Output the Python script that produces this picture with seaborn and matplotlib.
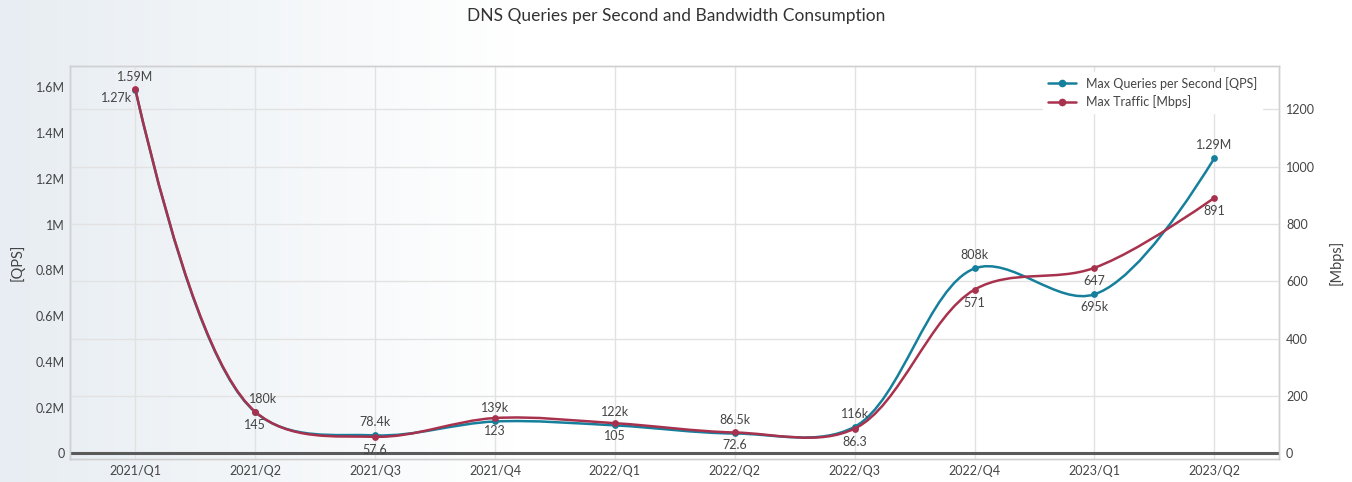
import numpy as np
import matplotlib
matplotlib.use("Agg")
import matplotlib.pyplot as plt
from matplotlib.path import Path
from matplotlib.patches import PathPatch
from matplotlib.lines import Line2D
from matplotlib.ticker import FuncFormatter
import pandas as pd
import seaborn as sns

# data
quarters = ["2021/Q1", "2021/Q2", "2021/Q3", "2021/Q4", "2022/Q1",
            "2022/Q2", "2022/Q3", "2022/Q4", "2023/Q1", "2023/Q2"]
qps = [1590000, 180000, 78400, 139000, 122000, 86500, 116000, 808000, 695000, 1290000]
qps_text = ["1.59M", "180k", "78.4k", "139k", "122k", "86.5k", "116k", "808k", "695k", "1.29M"]
mbps = [1270, 145, 57.6, 123, 105, 72.6, 86.3, 571, 647, 891]
mbps_text = ["1.27k", "145", "57.6", "123", "105", "72.6", "86.3", "571", "647", "891"]

# where each label sits relative to its marker
qps_pos = ["above", "above_right"] + ["above"] * 6 + ["below", "above"]
mbps_pos = ["left"] + ["below"] * 9

TEAL = "#16809c"
RED = "#a8324e"
TXT = "#444444"

df = pd.DataFrame({"x": range(len(quarters)), "qps": qps, "mbps": mbps})

sns.set_theme(style="white")
plt.rcParams["font.family"] = ["Lato", "DejaVu Sans"]

W, H = 1352, 482
fig = plt.figure(figsize=(W / 100, H / 100), dpi=100)

# soft gradient background on the left
bg = fig.add_axes([0, 0, 1, 1], zorder=-5)
grad = np.linspace(0, 1, 400)
fade = np.clip(grad / 0.38, 0, 1)
left_col = np.array([231, 237, 242]) / 255
img = left_col[None, :] * (1 - fade[:, None]) + fade[:, None]
bg.imshow(img[None, :, :], aspect="auto", extent=[0, 1, 0, 1])
bg.set_axis_off()

x0, x1 = 70.3, 1279
y_top, y_bot = 66, 459
ax = fig.add_axes([x0 / W, (H - y_bot) / H, (x1 - x0) / W, (y_bot - y_top) / H])
ax.set_facecolor("none")
ax2 = ax.twinx()

ax.set_xlim(-0.542, 9.539)
ax.set_ylim(-25000, 1693000)
ax2.set_ylim(-19.9, 1351)


def smooth_path(xs, ys, sx, sy, smoothness=1.0):
    # spline through the points, same tangent rule as plotly's "spline" shape
    pts = np.column_stack([np.asarray(xs, float) * sx, np.asarray(ys, float) * sy])
    tans = []
    for i in range(1, len(pts) - 1):
        d1 = pts[i - 1] - pts[i]
        d2 = pts[i + 1] - pts[i]
        d1a = np.hypot(*d1) ** 0.5
        d2a = np.hypot(*d2) ** 0.5
        num = (d2a ** 2 * d1 - d1a ** 2 * d2) * smoothness
        tans.append((pts[i] + num / (3 * d2a * (d1a + d2a)),
                     pts[i] - num / (3 * d1a * (d1a + d2a))))
    verts = [pts[0], tans[0][0], pts[1]]
    codes = [Path.MOVETO, Path.CURVE3, Path.CURVE3]
    for i in range(2, len(pts) - 1):
        verts += [tans[i - 2][1], tans[i - 1][0], pts[i]]
        codes += [Path.CURVE4] * 3
    verts += [tans[-1][1], pts[-1]]
    codes += [Path.CURVE3] * 2
    verts = np.array(verts) / [sx, sy]
    return Path(verts, codes)


px_x = (x1 - x0) / (9.539 + 0.542)
px_qps = (y_bot - y_top) / (1693000 + 25000)
px_mbps = (y_bot - y_top) / (1351 + 19.9)

# grid from the right axis, vertical grid at each quarter
ax2.set_yticks([0, 200, 400, 600, 800, 1000, 1200])
ax2.grid(axis="y", color="#e2e2e2", lw=1)
ax.set_xticks(df["x"])
ax.set_xticklabels(quarters)
ax.grid(axis="x", color="#e2e2e2", lw=1)
ax.grid(axis="y", visible=False)
ax2.axhline(0, color="#5a5a5a", lw=2.2, zorder=1.5)

# curves (both on the top axes so the grid stays beneath them)
teal_patch = PathPatch(smooth_path(df["x"], df["qps"], px_x, px_qps),
                       facecolor="none", edgecolor=TEAL, lw=1.8, transform=ax.transData, zorder=2)
ax2.add_patch(teal_patch)
red_patch = PathPatch(smooth_path(df["x"], df["mbps"], px_x, px_mbps),
                      facecolor="none", edgecolor=RED, lw=1.8, zorder=3)
ax2.add_patch(red_patch)

sns.scatterplot(data=df, x="x", y="qps", ax=ax, color=TEAL, s=24, linewidth=0, zorder=4, legend=False)
sns.scatterplot(data=df, x="x", y="mbps", ax=ax2, color=RED, s=24, linewidth=0, zorder=5, legend=False)

# point labels
offsets = {"above": ((0, 7), "center", "bottom"),
           "above_right": ((8, 7), "center", "bottom"),
           "below": ((0, -7), "center", "top"),
           "left": ((-3, -3), "right", "top")}
for xi, v, t, p in zip(df["x"], qps, qps_text, qps_pos):
    off, ha, va = offsets[p]
    ax2.annotate(t, (xi, v), xycoords=ax.transData, xytext=off, textcoords="offset pixels",
                 ha=ha, va=va, fontsize=9, color=TXT, zorder=6)
for xi, v, t, p in zip(df["x"], mbps, mbps_text, mbps_pos):
    off, ha, va = offsets[p]
    ax2.annotate(t, (xi, v), xytext=off, textcoords="offset pixels",
                 ha=ha, va=va, fontsize=9, color=TXT, zorder=6)

ax.set_yticks([0, 200000, 400000, 600000, 800000, 1000000, 1200000, 1400000, 1600000])
ax.yaxis.set_major_formatter(FuncFormatter(lambda v, _: "0" if v == 0 else f"{v / 1e6:g}M"))
ax.tick_params(length=0, labelsize=9, labelcolor=TXT)
ax.tick_params(axis="x", pad=4.5)
ax.tick_params(axis="y", pad=4)
ax2.tick_params(length=0, labelsize=9, labelcolor=TXT, pad=5)
ax.set_xlabel("")
ax.set_ylabel("[QPS]", fontsize=10.5, color=TXT, labelpad=8)
ax2.set_ylabel("[Mbps]", fontsize=10.5, color=TXT, labelpad=10)

for a in (ax, ax2):
    for s in a.spines.values():
        s.set_color("#d0d0d0")
        s.set_linewidth(1)

handles = [Line2D([], [], color=TEAL, lw=1.8, marker="o", markersize=4.5),
           Line2D([], [], color=RED, lw=1.8, marker="o", markersize=4.5)]
leg = ax2.legend(handles, ["Max Queries per Second [QPS]", "Max Traffic [Mbps]"],
                 loc="upper right", bbox_to_anchor=(0.986, 0.985), borderaxespad=0,
                 fontsize=9, frameon=True, facecolor="white", edgecolor="white",
                 framealpha=1, fancybox=False, handlelength=2.2, labelspacing=0.45)
for t in leg.get_texts():
    t.set_color(TXT)
leg.set_zorder(7)

fig.text(0.5, 1 - 16 / H, "DNS Queries per Second and Bandwidth Consumption",
         ha="center", va="center", fontsize=12.5, color="#333333")

fig.savefig("out.png", dpi=100)
